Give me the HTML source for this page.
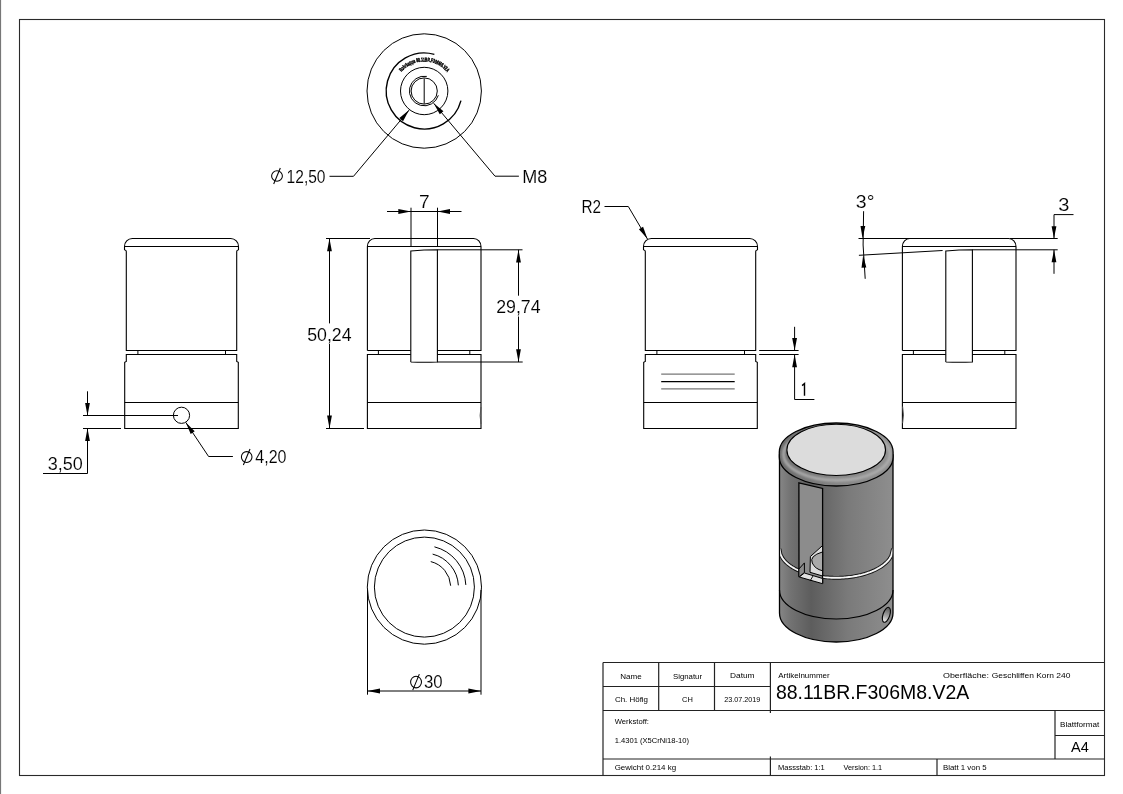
<!DOCTYPE html>
<html><head><meta charset="utf-8"><style>
html,body{margin:0;padding:0;background:#fff;}
svg{display:block;}
</style></head><body>
<svg style="will-change:transform" width="1123" height="794" viewBox="0 0 1123 794">
<rect width="1123" height="794" fill="#fff"/>
<line x1="0.5" y1="0" x2="0.5" y2="794" stroke="#777" stroke-width="1.2" />
<rect x="19.5" y="19.5" width="1085" height="756" fill="none" stroke="#2a2a2a" stroke-width="1.1"/>
<circle cx="424.2" cy="91.0" r="57.2" fill="none" stroke="#000" stroke-width="1"/>
<path d="M434.36,54.38 A38,38 0 1 0 460.96,100.64" stroke="#000" stroke-width="1.4" fill="none" />
<circle cx="424.2" cy="91.0" r="23.7" fill="none" stroke="#000" stroke-width="1"/>
<path d="M426.77,76.42 A14.8,14.8 0 1 0 438.35,95.33" stroke="#000" stroke-width="1" fill="none" />
<circle cx="424.2" cy="91.0" r="13.1" fill="none" stroke="#000" stroke-width="1"/>
<line x1="424.2" y1="78.4" x2="424.2" y2="103.8" stroke="#000" stroke-width="1" />
<path id="tarc" d="M394.59999999999997,91.0 A29.6,29.6 0 0 1 453.8,91.0" fill="none"/>
<text font-family="Liberation Sans" font-size="5.6" font-weight="bold" fill="#000" stroke="#000" stroke-width="0.45"><textPath href="#tarc" startOffset="20.5" textLength="52" lengthAdjust="spacingAndGlyphs">Rohrkappe 88.11BR.F306M8.V2A</textPath></text>
<polygon points="409.10,110.10 399.35,118.07 403.05,121.13" fill="#000"/>
<path d="M409.1,110.1 L353.5,176.3 L329.5,176.3" stroke="#000" stroke-width="1" fill="none" />
<polygon points="433.70,103.30 439.75,114.33 443.45,111.27" fill="#000"/>
<path d="M433.7,103.3 L495,176.2 L518.9,176.2" stroke="#000" stroke-width="1" fill="none" />
<ellipse cx="277.0" cy="176.0" rx="5.4" ry="5.3" stroke="#000" stroke-width="1.05" fill="none"/>
<line x1="280.3" y1="168.0" x2="273.7" y2="184.0" stroke="#000" stroke-width="1.05" />
<text x="286.6" y="182.5" font-family="Liberation Sans" font-size="18" text-anchor="start" font-weight="normal" fill="#000" textLength="38.93" lengthAdjust="spacingAndGlyphs" stroke="#fff" stroke-width="0.12">12,50</text>
<text x="522.23" y="183.0" font-family="Liberation Sans" font-size="18" text-anchor="start" font-weight="normal" fill="#000" textLength="25.08" lengthAdjust="spacingAndGlyphs" stroke="#fff" stroke-width="0.12">M8</text>
<path d="M124.5,250 L124.5,246.5 A7.8,7.8 0 0 1 132.3,238.5 L230.7,238.5 A7.8,7.8 0 0 1 238.5,246.5 L238.5,250" stroke="#000" stroke-width="1.1" fill="none" />
<line x1="124.5" y1="246.5" x2="238.5" y2="246.5" stroke="#000" stroke-width="1.1" />
<path d="M124.5,250 Q126.3,250 126.3,251.5 L126.3,350.5 L236.7,350.5 L236.7,251.5 Q236.7,250 238.5,250" stroke="#000" stroke-width="1.1" fill="none" />
<line x1="137.9" y1="350.5" x2="137.9" y2="354.5" stroke="#000" stroke-width="1" />
<line x1="225.5" y1="350.5" x2="225.5" y2="354.5" stroke="#000" stroke-width="1" />
<path d="M124.7,428.5 L124.7,362.3 L126.3,361.5 L126.3,354.5 L236.7,354.5 L236.7,361.5 L238.3,362.3 L238.3,428.5 Z" stroke="#000" stroke-width="1.1" fill="none" />
<line x1="124.7" y1="402.5" x2="238.3" y2="402.5" stroke="#000" stroke-width="1.2" />
<circle cx="181.5" cy="415.3" r="8.1" fill="none" stroke="#000" stroke-width="1"/>
<path d="M367.4,350.5 L367.4,246.5 A7.4,7.9 0 0 1 374.79999999999995,238.5 L473.6,238.5 A7.4,7.9 0 0 1 481.0,246.5 L481.0,350.5 L437.4,350.5 M410.8,350.5 L367.4,350.5" stroke="#000" stroke-width="1.1" fill="none" />
<line x1="367.4" y1="246.5" x2="481.0" y2="246.5" stroke="#000" stroke-width="1.1" />
<path d="M410.8,362 L410.8,251 Q424.1,249.8 437.4,249.8 L437.4,362 Q424.1,362.4 410.8,362" stroke="#000" stroke-width="1.1" fill="none" />
<line x1="378.4" y1="350.5" x2="378.4" y2="354.5" stroke="#000" stroke-width="1" />
<line x1="469.8" y1="350.5" x2="469.8" y2="354.5" stroke="#000" stroke-width="1" />
<path d="M410.8,354.5 L367.4,354.5 L367.4,428.5 L481.0,428.5 L481.0,354.5 L437.4,354.5" stroke="#000" stroke-width="1.1" fill="none" />
<line x1="367.4" y1="402.5" x2="481.0" y2="402.5" stroke="#000" stroke-width="1.2" />
<path d="M643.5,250 L643.5,246.5 A7.8,7.8 0 0 1 651.3,238.5 L749.7,238.5 A7.8,7.8 0 0 1 757.5,246.5 L757.5,250" stroke="#000" stroke-width="1.1" fill="none" />
<line x1="643.5" y1="246.5" x2="757.5" y2="246.5" stroke="#000" stroke-width="1.1" />
<path d="M643.5,250 Q645.3,250 645.3,251.5 L645.3,350.5 L755.7,350.5 L755.7,251.5 Q755.7,250 757.5,250" stroke="#000" stroke-width="1.1" fill="none" />
<line x1="656.9" y1="350.5" x2="656.9" y2="354.5" stroke="#000" stroke-width="1" />
<line x1="744.5" y1="350.5" x2="744.5" y2="354.5" stroke="#000" stroke-width="1" />
<path d="M643.7,428.5 L643.7,362.3 L645.3,361.5 L645.3,354.5 L755.7,354.5 L755.7,361.5 L757.3,362.3 L757.3,428.5 Z" stroke="#000" stroke-width="1.1" fill="none" />
<line x1="643.7" y1="402.5" x2="757.3" y2="402.5" stroke="#000" stroke-width="1.2" />
<line x1="661.2" y1="374.1" x2="734.7" y2="374.1" stroke="#777" stroke-width="1.3" />
<line x1="661.2" y1="381.6" x2="734.7" y2="381.6" stroke="#000" stroke-width="1.3" />
<line x1="661.2" y1="388.9" x2="734.7" y2="388.9" stroke="#777" stroke-width="1.3" />
<path d="M902.4,350.5 L902.4,246.5 A7.4,7.9 0 0 1 909.8,238.5 L1008.6,238.5 A7.4,7.9 0 0 1 1016.0,246.5 L1016.0,350.5 L972.4,350.5 M945.8,350.5 L902.4,350.5" stroke="#000" stroke-width="1.1" fill="none" />
<line x1="902.4" y1="246.5" x2="1016.0" y2="246.5" stroke="#000" stroke-width="1.1" />
<path d="M945.8,362 L945.8,251 Q959.0999999999999,249.8 972.4,249.8 L972.4,362 Q959.0999999999999,362.4 945.8,362" stroke="#000" stroke-width="1.1" fill="none" />
<line x1="913.4" y1="350.5" x2="913.4" y2="354.5" stroke="#000" stroke-width="1" />
<line x1="1004.8" y1="350.5" x2="1004.8" y2="354.5" stroke="#000" stroke-width="1" />
<path d="M945.8,354.5 L902.4,354.5 L902.4,428.5 L1016.0,428.5 L1016.0,354.5 L972.4,354.5" stroke="#000" stroke-width="1.1" fill="none" />
<line x1="902.4" y1="402.5" x2="1016.0" y2="402.5" stroke="#000" stroke-width="1.2" />
<path d="M902.6,406.6 Q904.4,415 902.6,423.2" stroke="#555" stroke-width="1.0" fill="none" />
<path d="M481.0,407 Q479.2,415.5 481.0,424" stroke="#555" stroke-width="1.0" fill="none" />
<line x1="83" y1="415.5" x2="178" y2="415.5" stroke="#000" stroke-width="1" />
<line x1="83" y1="428.5" x2="121" y2="428.5" stroke="#000" stroke-width="1" />
<line x1="87.5" y1="391.3" x2="87.5" y2="415.5" stroke="#000" stroke-width="1" />
<polygon points="87.50,415.50 89.90,403.00 85.10,403.00" fill="#000"/>
<path d="M87.5,428.5 L87.5,473.5 L43,473.5" stroke="#000" stroke-width="1" fill="none" />
<polygon points="87.50,428.50 85.10,441.00 89.90,441.00" fill="#000"/>
<text x="47.67" y="470.0" font-family="Liberation Sans" font-size="18" text-anchor="start" font-weight="normal" fill="#000" textLength="35.04" lengthAdjust="spacingAndGlyphs" stroke="#fff" stroke-width="0.12">3,50</text>
<polygon points="185.80,422.40 190.71,433.94 194.69,431.26" fill="#000"/>
<path d="M185.8,422.4 L208.6,456.5 L232.9,456.5" stroke="#000" stroke-width="1" fill="none" />
<ellipse cx="246.70000000000002" cy="457.0" rx="5.3" ry="5.4" stroke="#000" stroke-width="1.05" fill="none"/>
<line x1="250.00000000000003" y1="449.0" x2="243.4" y2="465.0" stroke="#000" stroke-width="1.05" />
<text x="255.35" y="462.7" font-family="Liberation Sans" font-size="18" text-anchor="start" font-weight="normal" fill="#000" textLength="31.18" lengthAdjust="spacingAndGlyphs" stroke="#fff" stroke-width="0.12">4,20</text>
<line x1="411" y1="207.7" x2="411" y2="246" stroke="#000" stroke-width="1" />
<line x1="437.5" y1="207.7" x2="437.5" y2="246" stroke="#000" stroke-width="1" />
<line x1="387" y1="211.5" x2="461.5" y2="211.5" stroke="#000" stroke-width="1" />
<polygon points="411.00,211.50 398.30,209.10 398.30,213.90" fill="#000"/>
<polygon points="437.50,211.50 450.00,213.90 450.00,209.10" fill="#000"/>
<text x="418.97" y="208.3" font-family="Liberation Sans" font-size="18" text-anchor="start" font-weight="normal" fill="#000" textLength="10.66" lengthAdjust="spacingAndGlyphs" stroke="#fff" stroke-width="0.12">7</text>
<line x1="326" y1="238.5" x2="370" y2="238.5" stroke="#000" stroke-width="1" />
<line x1="326" y1="428.5" x2="364" y2="428.5" stroke="#000" stroke-width="1" />
<line x1="329.5" y1="238.5" x2="329.5" y2="323.4" stroke="#000" stroke-width="1" />
<line x1="329.5" y1="344" x2="329.5" y2="428.5" stroke="#000" stroke-width="1" />
<polygon points="329.50,238.50 327.10,251.30 331.90,251.30" fill="#000"/>
<polygon points="329.50,428.50 331.90,415.40 327.10,415.40" fill="#000"/>
<text x="307.17" y="340.9" font-family="Liberation Sans" font-size="18" text-anchor="start" font-weight="normal" fill="#000" textLength="44.4" lengthAdjust="spacingAndGlyphs" stroke="#fff" stroke-width="0.12">50,24</text>
<line x1="437.4" y1="249.8" x2="522.5" y2="249.8" stroke="#000" stroke-width="1" />
<line x1="437.4" y1="362" x2="522.7" y2="362" stroke="#000" stroke-width="1" />
<line x1="518.5" y1="249.8" x2="518.5" y2="295.7" stroke="#000" stroke-width="1" />
<line x1="518.5" y1="316.5" x2="518.5" y2="362" stroke="#000" stroke-width="1" />
<polygon points="518.50,249.80 516.10,262.50 520.90,262.50" fill="#000"/>
<polygon points="518.50,362.00 520.90,349.30 516.10,349.30" fill="#000"/>
<text x="496.16" y="313.2" font-family="Liberation Sans" font-size="18" text-anchor="start" font-weight="normal" fill="#000" textLength="44.45" lengthAdjust="spacingAndGlyphs" stroke="#fff" stroke-width="0.12">29,74</text>
<text x="581.41" y="212.8" font-family="Liberation Sans" font-size="18" text-anchor="start" font-weight="normal" fill="#000" textLength="19.57" lengthAdjust="spacingAndGlyphs" stroke="#fff" stroke-width="0.12">R2</text>
<path d="M604.5,206.5 L628.3,206.5 L647.5,239.1" stroke="#000" stroke-width="1" fill="none" />
<polygon points="647.50,239.10 643.07,226.79 638.93,229.21" fill="#000"/>
<line x1="759.2" y1="350.5" x2="798.6" y2="350.5" stroke="#000" stroke-width="1" />
<line x1="759.2" y1="354.5" x2="798.6" y2="354.5" stroke="#000" stroke-width="1" />
<line x1="794.6" y1="326.8" x2="794.6" y2="350.5" stroke="#000" stroke-width="1" />
<polygon points="794.60,350.50 797.00,338.10 792.20,338.10" fill="#000"/>
<path d="M794.6,354.5 L794.6,399.5 L814.4,399.5" stroke="#000" stroke-width="1" fill="none" />
<polygon points="794.60,354.50 792.20,367.20 797.00,367.20" fill="#000"/>
<path d="M802.1,385.6 L804.5,383.5 L804.5,395.8" stroke="#000" stroke-width="1.4" fill="none" />
<line x1="858.5" y1="238.5" x2="910" y2="238.5" stroke="#000" stroke-width="1" />
<line x1="858.9" y1="255.3" x2="942.6" y2="250.5" stroke="#000" stroke-width="1" />
<path d="M863.6,211.2 Q861.8,245 865.2,278.8" stroke="#000" stroke-width="1" fill="none" />
<polygon points="862.60,238.50 865.30,226.06 860.50,225.94" fill="#000"/>
<polygon points="863.20,255.30 861.50,267.74 866.30,267.46" fill="#000"/>
<text x="855.89" y="208.0" font-family="Liberation Sans" font-size="18" text-anchor="start" font-weight="normal" fill="#000" textLength="18.56" lengthAdjust="spacingAndGlyphs" stroke="#fff" stroke-width="0.12">3°</text>
<line x1="1010" y1="238.5" x2="1057.7" y2="238.5" stroke="#000" stroke-width="1" />
<line x1="972.4" y1="249.8" x2="1057.7" y2="249.8" stroke="#000" stroke-width="1" />
<path d="M1054,238.5 L1054,214.6 L1073.5,214.6" stroke="#000" stroke-width="1" fill="none" />
<polygon points="1054.00,238.50 1056.40,226.30 1051.60,226.30" fill="#000"/>
<line x1="1054" y1="249.8" x2="1054" y2="273.8" stroke="#000" stroke-width="1" />
<polygon points="1054.00,249.80 1051.60,262.20 1056.40,262.20" fill="#000"/>
<text x="1058.37" y="211.4" font-family="Liberation Sans" font-size="18" text-anchor="start" font-weight="normal" fill="#000" textLength="11.15" lengthAdjust="spacingAndGlyphs" stroke="#fff" stroke-width="0.12">3</text>
<circle cx="424.4" cy="587.1" r="57.1" fill="none" stroke="#000" stroke-width="1"/>
<circle cx="424.4" cy="587.1" r="50" fill="none" stroke="#000" stroke-width="1"/>
<path d="M434.44,546.83 A41.5,41.5 0 0 1 465.84,584.93" stroke="#000" stroke-width="1" fill="none" />
<path d="M432.63,554.11 A34,34 0 0 1 458.35,585.32" stroke="#000" stroke-width="1" fill="none" />
<path d="M430.76,561.58 A26.3,26.3 0 0 1 450.66,585.72" stroke="#000" stroke-width="1" fill="none" />
<line x1="367.5" y1="590" x2="367.5" y2="694.7" stroke="#000" stroke-width="1" />
<line x1="481" y1="590" x2="481" y2="694.7" stroke="#000" stroke-width="1" />
<line x1="367.5" y1="691" x2="481" y2="691" stroke="#000" stroke-width="1" />
<polygon points="367.50,691.00 380.00,693.40 380.00,688.60" fill="#000"/>
<polygon points="481.00,691.00 468.40,688.60 468.40,693.40" fill="#000"/>
<ellipse cx="416.05" cy="682.1" rx="5.45" ry="5.8" stroke="#000" stroke-width="1.05" fill="none"/>
<line x1="419.35" y1="674.1" x2="412.75" y2="690.1" stroke="#000" stroke-width="1.05" />
<text x="423.99" y="688.1" font-family="Liberation Sans" font-size="18" text-anchor="start" font-weight="normal" fill="#000" textLength="18.66" lengthAdjust="spacingAndGlyphs" stroke="#fff" stroke-width="0.12">30</text>
<defs>
<linearGradient id="gb" x1="779.5" y1="0" x2="893" y2="0" gradientUnits="userSpaceOnUse">
<stop offset="0" stop-color="#868686"/><stop offset="0.1" stop-color="#727272"/><stop offset="0.28" stop-color="#5d5d5d"/><stop offset="0.6" stop-color="#7a7a7a"/><stop offset="1" stop-color="#8e8e8e"/></linearGradient>
<linearGradient id="gr" x1="0" y1="423" x2="0" y2="486" gradientUnits="userSpaceOnUse">
<stop offset="0" stop-color="#777"/><stop offset="0.75" stop-color="#8a8a8a"/><stop offset="0.9" stop-color="#aaa"/><stop offset="1" stop-color="#888"/></linearGradient>
<linearGradient id="gs" x1="799" y1="0" x2="823" y2="0" gradientUnits="userSpaceOnUse">
<stop offset="0" stop-color="#8c8c8c"/><stop offset="1" stop-color="#909090"/></linearGradient>
</defs>
<path d="M779.5,455 L779.5,613 A56.75,29 0 0 0 893.0,613 L893.0,455 Z" stroke="#000" stroke-width="1.3" fill="url(#gb)" />
<clipPath id="bodyclip"><path d="M780.1,440 L780.1,613 A56.75,29 0 0 0 892.4,613 L892.4,440 Z"/></clipPath>
<path d="M779.5,590 A56.75,29 0 0 0 893.0,590" stroke="#000" stroke-width="1.2" fill="none" />
<g clip-path="url(#bodyclip)">
<path d="M779.50,548.80 L780.47,554.14 L781.44,556.32 L782.41,557.97 L783.38,559.34 L784.35,560.53 L785.32,561.59 L786.29,562.56 L787.26,563.44 L788.23,564.25 L789.20,565.01 L790.17,565.73 L791.14,566.40 L792.11,567.03 L793.08,567.62 L794.05,568.19 L795.02,568.73 L795.99,569.24 L796.96,569.73 L797.93,570.19 L798.90,570.63" stroke="#111" stroke-width="3.8" fill="none" />
<path d="M779.50,548.80 L780.47,554.14 L781.44,556.32 L782.41,557.97 L783.38,559.34 L784.35,560.53 L785.32,561.59 L786.29,562.56 L787.26,563.44 L788.23,564.25 L789.20,565.01 L790.17,565.73 L791.14,566.40 L792.11,567.03 L793.08,567.62 L794.05,568.19 L795.02,568.73 L795.99,569.24 L796.96,569.73 L797.93,570.19 L798.90,570.63" stroke="#f6f6f6" stroke-width="1.9" fill="none" />
<path d="M822.60,576.95 L824.36,577.16 L826.12,577.33 L827.88,577.48 L829.64,577.60 L831.40,577.69 L833.16,577.76 L834.92,577.79 L836.68,577.80 L838.44,577.78 L840.20,577.73 L841.96,577.65 L843.72,577.55 L845.48,577.41 L847.24,577.25 L849.00,577.06 L850.76,576.84 L852.52,576.58 L854.28,576.30 L856.04,575.98 L857.80,575.63 L859.56,575.24 L861.32,574.82 L863.08,574.35 L864.84,573.85 L866.60,573.30 L868.36,572.71 L870.12,572.07 L871.88,571.37 L873.64,570.62 L875.40,569.79 L877.16,568.90 L878.92,567.92 L880.68,566.84 L882.44,565.65 L884.20,564.31 L885.96,562.79 L887.72,561.02 L889.48,558.85 L891.24,555.97 L893.00,548.80" stroke="#111" stroke-width="3.8" fill="none" />
<path d="M822.60,576.95 L824.36,577.16 L826.12,577.33 L827.88,577.48 L829.64,577.60 L831.40,577.69 L833.16,577.76 L834.92,577.79 L836.68,577.80 L838.44,577.78 L840.20,577.73 L841.96,577.65 L843.72,577.55 L845.48,577.41 L847.24,577.25 L849.00,577.06 L850.76,576.84 L852.52,576.58 L854.28,576.30 L856.04,575.98 L857.80,575.63 L859.56,575.24 L861.32,574.82 L863.08,574.35 L864.84,573.85 L866.60,573.30 L868.36,572.71 L870.12,572.07 L871.88,571.37 L873.64,570.62 L875.40,569.79 L877.16,568.90 L878.92,567.92 L880.68,566.84 L882.44,565.65 L884.20,564.31 L885.96,562.79 L887.72,561.02 L889.48,558.85 L891.24,555.97 L893.00,548.80" stroke="#f6f6f6" stroke-width="1.9" fill="none" />
</g>
<clipPath id="capclip"><path d="M779.3,452 A56.9,29 0 0 1 893.1,452 L893.1,457 A56.9,29 0 0 1 779.3,457 Z"/></clipPath>
<filter id="blur1" x="-10%" y="-10%" width="120%" height="120%"><feGaussianBlur stdDeviation="1.1"/></filter>
<linearGradient id="grim" x1="779" y1="0" x2="893" y2="0" gradientUnits="userSpaceOnUse"><stop offset="0" stop-color="#6c6c6c"/><stop offset="0.5" stop-color="#868686"/><stop offset="1" stop-color="#929292"/></linearGradient>
<path d="M779.3,452 A56.9,29 0 0 1 893.1,452 L893.1,457 A56.9,29 0 0 1 779.3,457 Z" stroke="none" stroke-width="0" fill="url(#grim)" />
<g clip-path="url(#capclip)"><ellipse cx="836.8" cy="454.2" rx="53.2" ry="26" fill="none" stroke="#b0b0b0" stroke-width="3.0" filter="url(#blur1)" opacity="0.9"/></g>
<path d="M779.3,452 A56.9,29 0 0 1 893.1,452 L893.1,457 A56.9,29 0 0 1 779.3,457 Z" stroke="#000" stroke-width="1.3" fill="none" />
<ellipse cx="836.2" cy="449.9" rx="49.3" ry="25.6" fill="#dcdcdc" stroke="#000" stroke-width="1.1"/>
<path d="M798.9,482.9 L822.6,488.4 L822.6,582.6 L799,575.8 Z" stroke="#000" stroke-width="1.3" fill="#8c8c8c" />
<path d="M822.6,545.5 L810.4,556.5 L810,572.3 L822.6,576 Z" stroke="#000" stroke-width="1.0" fill="#dcdcdc" />
<path d="M822.6,551.9 Q809,556 812.3,563 Q815,569 822.6,570.8 Z" stroke="#000" stroke-width="1.0" fill="#a9a9a9" />
<path d="M798.9,569 L804.4,562.9 L804.4,572.5 L798.9,577 Z" stroke="#000" stroke-width="1.0" fill="#8c8c8c" />
<path d="M799.3,577 L804.4,573 L822.6,578.5 L822.6,583.7 Z" stroke="#000" stroke-width="1.0" fill="#e0e0e0" />
<line x1="810" y1="581" x2="813" y2="576" stroke="#000" stroke-width="0.9" />
<linearGradient id="gh" x1="0" y1="607" x2="0" y2="623" gradientUnits="userSpaceOnUse"><stop offset="0" stop-color="#555"/><stop offset="0.6" stop-color="#aaa"/><stop offset="1" stop-color="#fff"/></linearGradient>
<ellipse cx="886.4" cy="614.8" rx="3.4" ry="7.8" transform="rotate(18.4 886.4 614.8)" fill="url(#gh)" stroke="#000" stroke-width="1.1"/>
<g stroke="#222" stroke-width="1.2">
<line x1="603" y1="662.5" x2="1104.5" y2="662.5"/>
<line x1="603" y1="686.5" x2="770.4" y2="686.5"/>
<line x1="603" y1="710.5" x2="1104.5" y2="710.5"/>
<line x1="1055" y1="735.5" x2="1104.5" y2="735.5"/>
<line x1="603" y1="759" x2="1104.5" y2="759"/>
<line x1="603" y1="662.5" x2="603" y2="775.5"/>
<line x1="658.7" y1="662.5" x2="658.7" y2="710.5"/>
<line x1="714.5" y1="662.5" x2="714.5" y2="710.5"/>
<line x1="770.4" y1="662.5" x2="770.4" y2="713"/>
<line x1="770.4" y1="756.5" x2="770.4" y2="775.5"/>
<line x1="1055" y1="710.5" x2="1055" y2="759"/>
<line x1="937" y1="759" x2="937" y2="775.5"/>
</g>
<text x="631" y="679" font-family="Liberation Sans" font-size="8" text-anchor="middle" font-weight="normal" fill="#000" textLength="21.4" lengthAdjust="spacingAndGlyphs" >Name</text>
<text x="687.5" y="679" font-family="Liberation Sans" font-size="8" text-anchor="middle" font-weight="normal" fill="#000" textLength="29" lengthAdjust="spacingAndGlyphs" >Signatur</text>
<text x="742.3" y="678.2" font-family="Liberation Sans" font-size="8" text-anchor="middle" font-weight="normal" fill="#000" textLength="24.5" lengthAdjust="spacingAndGlyphs" >Datum</text>
<text x="778.2" y="678.2" font-family="Liberation Sans" font-size="8" text-anchor="start" font-weight="normal" fill="#000" textLength="51.5" lengthAdjust="spacingAndGlyphs" >Artikelnummer</text>
<text x="943" y="677.8" font-family="Liberation Sans" font-size="8" text-anchor="start" font-weight="normal" fill="#000" textLength="46" lengthAdjust="spacingAndGlyphs" >Oberfläche:</text>
<text x="991.8" y="677.8" font-family="Liberation Sans" font-size="8" text-anchor="start" font-weight="normal" fill="#000" textLength="78.6" lengthAdjust="spacingAndGlyphs" >Geschliffen Korn 240</text>
<text x="631.5" y="701.9" font-family="Liberation Sans" font-size="8" text-anchor="middle" font-weight="normal" fill="#000" textLength="33.1" lengthAdjust="spacingAndGlyphs" >Ch. Höfig</text>
<text x="687.4" y="701.9" font-family="Liberation Sans" font-size="8" text-anchor="middle" font-weight="normal" fill="#000" textLength="10.8" lengthAdjust="spacingAndGlyphs" >CH</text>
<text x="742.3" y="701.9" font-family="Liberation Sans" font-size="7" text-anchor="middle" font-weight="normal" fill="#000" textLength="36.2" lengthAdjust="spacingAndGlyphs" >23.07.2019</text>
<text x="775.9" y="699.2" font-family="Liberation Sans" font-size="19.3" text-anchor="start" font-weight="normal" fill="#000" textLength="193.3" lengthAdjust="spacingAndGlyphs" >88.11BR.F306M8.V2A</text>
<text x="614.7" y="723.9" font-family="Liberation Sans" font-size="8" text-anchor="start" font-weight="normal" fill="#000" textLength="34.2" lengthAdjust="spacingAndGlyphs" >Werkstoff:</text>
<text x="614.7" y="742.7" font-family="Liberation Sans" font-size="8" text-anchor="start" font-weight="normal" fill="#000" textLength="74.3" lengthAdjust="spacingAndGlyphs" >1.4301 (X5CrNi18-10)</text>
<text x="614.7" y="770" font-family="Liberation Sans" font-size="8" text-anchor="start" font-weight="normal" fill="#000" textLength="61.4" lengthAdjust="spacingAndGlyphs" >Gewicht 0.214 kg</text>
<text x="1060.1" y="726.7" font-family="Liberation Sans" font-size="8" text-anchor="start" font-weight="normal" fill="#000" textLength="39.1" lengthAdjust="spacingAndGlyphs" >Blattformat</text>
<text x="1071" y="751.6" font-family="Liberation Sans" font-size="14" text-anchor="start" font-weight="normal" fill="#000" textLength="17.8" lengthAdjust="spacingAndGlyphs" >A4</text>
<text x="778.1" y="770.1" font-family="Liberation Sans" font-size="8" text-anchor="start" font-weight="normal" fill="#000" textLength="46.7" lengthAdjust="spacingAndGlyphs" >Massstab: 1:1</text>
<text x="843.5" y="770.1" font-family="Liberation Sans" font-size="8" text-anchor="start" font-weight="normal" fill="#000" textLength="38.7" lengthAdjust="spacingAndGlyphs" >Version: 1.1</text>
<text x="942.9" y="770.1" font-family="Liberation Sans" font-size="8" text-anchor="start" font-weight="normal" fill="#000" textLength="43.7" lengthAdjust="spacingAndGlyphs" >Blatt 1 von 5</text>
</svg>
</body></html>
